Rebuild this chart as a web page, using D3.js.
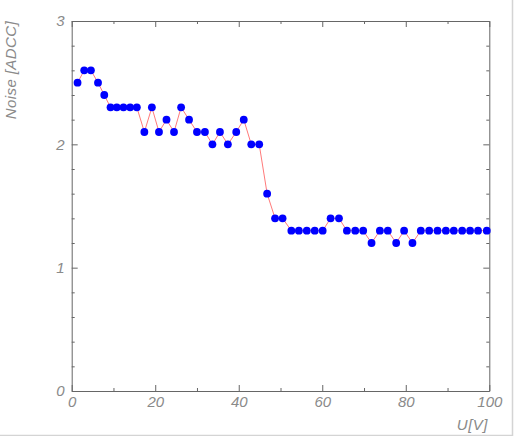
<!DOCTYPE html>
<html>
<head>
<meta charset="utf-8">
<script src="https://cdn.jsdelivr.net/npm/d3@7.9.0/dist/d3.min.js"></script>
<style>
  body { margin: 0; background: #fff; }
  text { font-family: "Liberation Sans", "DejaVu Sans", sans-serif; font-style: italic; fill: #8a8a8a; }
</style>
</head>
<body>
<svg id="chart" width="515" height="436"></svg>
<script>
// voltage [V] and noise [ADCC]
const voltage = [1.4, 3.0, 4.6, 6.3, 7.8, 9.3, 10.8, 12.4, 14.0, 15.6,
  17.4, 19.2, 20.9, 22.7, 24.5, 26.2, 28.1, 30.0, 31.9, 33.7,
  35.5, 37.4, 39.4, 41.2, 43.0, 44.9, 46.8, 48.7, 50.5, 52.6,
  54.4, 56.3, 58.2, 60.1, 62.0, 64.0, 65.9, 67.9, 69.8, 71.8,
  73.8, 75.7, 77.7, 79.6, 81.6, 83.6, 85.6, 87.6, 89.6, 91.5,
  93.5, 95.4, 97.3, 99.4];
const noise = [2.5, 2.6, 2.6, 2.5, 2.4, 2.3, 2.3, 2.3, 2.3, 2.3,
  2.1, 2.3, 2.1, 2.2, 2.1, 2.3, 2.2, 2.1, 2.1, 2.0,
  2.1, 2.0, 2.1, 2.2, 2.0, 2.0, 1.6, 1.4, 1.4, 1.3,
  1.3, 1.3, 1.3, 1.3, 1.4, 1.4, 1.3, 1.3, 1.3, 1.2,
  1.3, 1.3, 1.2, 1.3, 1.2, 1.3, 1.3, 1.3, 1.3, 1.3,
  1.3, 1.3, 1.3, 1.3];
const xTicks = [0, 20, 40, 60, 80, 100];
const xMinor = [10, 30, 50, 70, 90];
const yTicks = [0, 1, 2, 3];
const yMinor = [0.2, 0.4, 0.6, 0.8, 1.2, 1.4, 1.6, 1.8, 2.2, 2.4, 2.6, 2.8];

const data = voltage.map((v, i) => ({ x: v, y: noise[i] }));

const svg = d3.select("#chart");
const mLeft = 71.7, mRight = 489.3, mTop = 21, mBottom = 391;

let x = d3.scaleLinear().domain([0, 100]).range([mLeft, mRight]);
let y = d3.scaleLinear().domain([0, 3]).range([mBottom, mTop]);

// canvas bevel on right and bottom
svg.append("path")
  .attr("d", "M512.5,0V435.5H0")
  .attr("fill", "none")
  .attr("stroke", "#d4d4d4")
  .attr("stroke-width", 1.5);

const axisColor = "#666";
function styleAxis(g, labels) {
  g.select(".domain").attr("stroke", axisColor);
  g.selectAll(".tick line").attr("stroke", axisColor);
  if (!labels) g.selectAll(".tick text").remove();
  g.selectAll(".tick text")
    .attr("fill", "#8a8a8a")
    .attr("font-size", 15)
    .attr("font-family", null);
}

// bottom axis with labels
svg.append("g")
  .attr("transform", `translate(0,${mBottom})`)
  .call(d3.axisBottom(x).tickValues(xTicks).tickSize(-6).tickPadding(5).tickSizeOuter(0))
  .call(g => styleAxis(g, true));
svg.append("g")
  .attr("transform", `translate(0,${mBottom})`)
  .call(d3.axisBottom(x).tickValues(xMinor).tickSize(-3).tickSizeOuter(0))
  .call(g => { g.select(".domain").remove(); styleAxis(g, false); });

// top axis (ticks only)
svg.append("g")
  .attr("transform", `translate(0,${mTop})`)
  .call(d3.axisTop(x).tickValues(xTicks).tickSize(-6).tickSizeOuter(0))
  .call(g => styleAxis(g, false));
svg.append("g")
  .attr("transform", `translate(0,${mTop})`)
  .call(d3.axisTop(x).tickValues(xMinor).tickSize(-3).tickSizeOuter(0))
  .call(g => { g.select(".domain").remove(); styleAxis(g, false); });

// left axis with labels
svg.append("g")
  .attr("transform", `translate(${mLeft},0)`)
  .call(d3.axisLeft(y).tickValues(yTicks).tickFormat(d3.format("d")).tickSize(-6).tickPadding(7).tickSizeOuter(0))
  .call(g => styleAxis(g, true));
svg.append("g")
  .attr("transform", `translate(${mLeft},0)`)
  .call(d3.axisLeft(y).tickValues(yMinor).tickSize(-3).tickSizeOuter(0))
  .call(g => { g.select(".domain").remove(); styleAxis(g, false); });

// right axis (ticks only)
svg.append("g")
  .attr("transform", `translate(${mRight},0)`)
  .call(d3.axisRight(y).tickValues(yTicks).tickSize(-6).tickSizeOuter(0))
  .call(g => styleAxis(g, false));
svg.append("g")
  .attr("transform", `translate(${mRight},0)`)
  .call(d3.axisRight(y).tickValues(yMinor).tickSize(-3).tickSizeOuter(0))
  .call(g => { g.select(".domain").remove(); styleAxis(g, false); });

// axis titles
svg.append("text")
  .attr("x", 488)
  .attr("y", 430)
  .attr("text-anchor", "end")
  .attr("font-size", 15)
  .attr("letter-spacing", 0.5)
  .text("U[V]");
svg.append("text")
  .attr("transform", "translate(16,21) rotate(-90)")
  .attr("text-anchor", "end")
  .attr("font-size", 15)
  .attr("letter-spacing", 0.4)
  .text("Noise [ADCC]");

// connecting line
let line = d3.line().x(d => x(d.x)).y(d => y(d.y));
svg.append("path")
  .datum(data)
  .attr("d", line)
  .attr("fill", "none")
  .attr("stroke", "#ff7a7a")
  .attr("stroke-width", 1);

// markers
svg.append("g")
  .selectAll("circle")
  .data(data)
  .join("circle")
  .attr("cx", d => x(d.x))
  .attr("cy", d => y(d.y))
  .attr("r", 3.9)
  .attr("fill", "#0000ff");
</script>
</body>
</html>
